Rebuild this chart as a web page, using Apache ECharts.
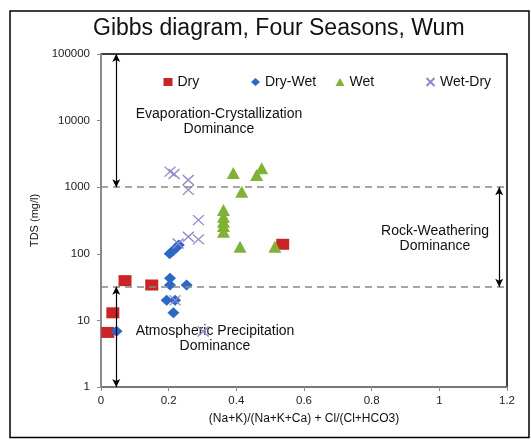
<!DOCTYPE html>
<html>
<head>
<meta charset="utf-8">
<title>Gibbs diagram, Four Seasons, Wum</title>
<script src="https://cdn.jsdelivr.net/npm/echarts@6/dist/echarts.min.js"></script>
<style>
  html, body { margin: 0; padding: 0; background: #fff; }
  #chart { width: 531px; height: 440px; }
</style>
</head>
<body>
<div id="chart"></div>
<script>
// Sample ratios (Na+K)/(Na+K+Ca) + Cl/(Cl+HCO3) and TDS (mg/l), per season
const dryX = [0.020, 0.035, 0.071, 0.150, 0.537];
const dryY = [6.6, 13, 39.5, 34, 139];

const dryWetX = [0.046, 0.203, 0.212, 0.222, 0.230, 0.204, 0.204, 0.253, 0.194, 0.219, 0.214];
const dryWetY = [6.9, 100, 110, 122, 136, 43, 34, 34, 20, 20, 13];

const wetX = [0.391, 0.460, 0.475, 0.416, 0.362, 0.362, 0.362, 0.362, 0.362, 0.411, 0.514];
const wetY = [1640, 1530, 1920, 856, 455, 361, 303, 261, 215, 128, 128];

const wetDryX = [0.204, 0.216, 0.258, 0.258, 0.288, 0.258, 0.288, 0.228, 0.219, 0.302];
const wetDryY = [1710, 1580, 1280, 910, 321, 180, 165, 143, 20, 6.8];

// Axis tick labels
const xTickLabels = ['0', '0.2', '0.4', '0.6', '0.8', '1', '1.2'];
const yTickLabels = ['1', '10', '100', '1000', '10000', '100000'];

// Dominance field boundaries (TDS) and arrow positions (x ratio)
const boundaryTDS = [32, 1000];
const leftArrowX = 0.045;
const rightArrowX = 1.177;

const pts = (xs, ys) => xs.map((x, i) => [x, ys[i]]);

const chart = echarts.init(document.getElementById('chart'));

const legendBase = {
  orient: 'horizontal',
  top: 75,
  padding: 0,
  itemWidth: 9,
  itemHeight: 8,
  textStyle: { fontFamily: 'Liberation Sans', fontSize: 14, color: '#111' },
  selectedMode: false
};

const option = {
  animation: false,
  backgroundColor: '#fff',
  textStyle: { fontFamily: 'Liberation Sans' },
  title: {
    text: 'Gibbs diagram, Four Seasons, Wum',
    left: 93,
    top: 17,
    padding: 0,
    textStyle: { fontFamily: 'Liberation Sans', fontSize: 23, fontWeight: 'normal', color: '#111' }
  },
  legend: [
    Object.assign({}, legendBase, { left: 163.5, data: ['Dry'] }),
    Object.assign({}, legendBase, { left: 251, data: ['Dry-Wet'] }),
    Object.assign({}, legendBase, { left: 335.5, data: ['Wet'] }),
    Object.assign({}, legendBase, { left: 425.5, data: ['Wet-Dry'] })
  ],
  grid: {
    left: 101, right: 24, top: 54, bottom: 53,
    show: true, borderColor: '#000', borderWidth: 1.5
  },
  xAxis: {
    type: 'value',
    min: 0, max: 1.2, interval: 0.2,
    name: '(Na+K)/(Na+K+Ca) + Cl/(Cl+HCO3)',
    nameLocation: 'middle',
    nameGap: 26,
    nameTextStyle: { fontFamily: 'Liberation Sans', fontSize: 12, color: '#111' },
    axisLine: { show: true, lineStyle: { color: '#8a8a8a', width: 1.5 } },
    axisTick: { show: true, length: 4, lineStyle: { color: '#8a8a8a' } },
    splitLine: { show: false },
    axisLabel: {
      fontSize: 11.5, color: '#222', margin: 8,
      formatter: v => xTickLabels[Math.round(v / 0.2)]
    }
  },
  yAxis: {
    type: 'log', logBase: 10,
    min: 1, max: 100000,
    name: 'TDS (mg/l)',
    nameLocation: 'middle',
    nameGap: 56,
    nameTextStyle: { fontFamily: 'Liberation Sans', fontSize: 11, color: '#111' },
    axisLine: { show: true, lineStyle: { color: '#8a8a8a', width: 2 } },
    axisTick: { show: true, length: 4, lineStyle: { color: '#8a8a8a' } },
    splitLine: { show: false },
    minorTick: { show: false },
    axisLabel: {
      fontSize: 11.5, color: '#222', margin: 11,
      formatter: v => yTickLabels[Math.round(Math.log10(v))]
    }
  },
  series: [
    {
      name: 'Dry', type: 'scatter',
      symbol: 'rect', symbolSize: [13, 11],
      itemStyle: { color: '#c92426', opacity: 1 },
      data: pts(dryX, dryY)
    },
    {
      name: 'Dry-Wet', type: 'scatter',
      symbol: 'diamond', symbolSize: [12, 11],
      itemStyle: { color: '#2b68c6', opacity: 1 },
      data: pts(dryWetX, dryWetY)
    },
    {
      name: 'Wet', type: 'scatter',
      symbol: 'triangle', symbolSize: [13, 12],
      itemStyle: { color: '#7fb236', opacity: 1 },
      data: pts(wetX, wetY)
    },
    {
      name: 'Wet-Dry', type: 'scatter',
      symbol: 'path://M0,0L10,10M10,0L0,10', symbolSize: [11, 10],
      itemStyle: { color: 'rgba(0,0,0,0)', borderColor: '#9386c9', borderWidth: 1.3, opacity: 1 },
      data: pts(wetDryX, wetDryY)
    },
    {
      // dashed field boundaries
      name: 'boundaries', type: 'line', data: [], silent: true,
      markLine: {
        silent: true, symbol: 'none', label: { show: false },
        lineStyle: { color: '#888', type: [7, 5], width: 1.5 },
        data: boundaryTDS.map(v => ({ yAxis: v }))
      }
    },
    {
      // double-headed arrows spanning each dominance field
      name: 'arrows', type: 'line', data: [], silent: true,
      markLine: {
        silent: true, symbol: ['arrow', 'arrow'], symbolSize: [6, 8],
        label: { show: false },
        lineStyle: { color: '#000', type: 'solid', width: 1.2 },
        data: [
          [{ coord: [leftArrowX, boundaryTDS[1]] }, { coord: [leftArrowX, 100000] }],
          [{ coord: [leftArrowX, boundaryTDS[0]] }, { coord: [leftArrowX, 1] }],
          [{ coord: [rightArrowX, boundaryTDS[1]] }, { coord: [rightArrowX, boundaryTDS[0]] }]
        ]
      }
    }
  ],
  graphic: [
    {
      type: 'rect', z: -1, silent: true,
      shape: { x: 10, y: 11, width: 519, height: 426.5 },
      style: { fill: null, stroke: '#000', lineWidth: 1.5 }
    },
    {
      type: 'text', silent: true, x: 219, y: 122,
      style: {
        text: 'Evaporation-Crystallization\nDominance',
        font: '14px "Liberation Sans"', lineHeight: 15, fill: '#111',
        textAlign: 'center', textVerticalAlign: 'middle'
      }
    },
    {
      type: 'text', silent: true, x: 435, y: 239,
      style: {
        text: 'Rock-Weathering\nDominance',
        font: '14px "Liberation Sans"', lineHeight: 15, fill: '#111',
        textAlign: 'center', textVerticalAlign: 'middle'
      }
    },
    {
      type: 'text', silent: true, x: 215, y: 338.5,
      style: {
        text: 'Atmospheric Precipitation\nDominance',
        font: '14px "Liberation Sans"', lineHeight: 15, fill: '#111',
        textAlign: 'center', textVerticalAlign: 'middle'
      }
    }
  ]
};

chart.setOption(option);
</script>
</body>
</html>
